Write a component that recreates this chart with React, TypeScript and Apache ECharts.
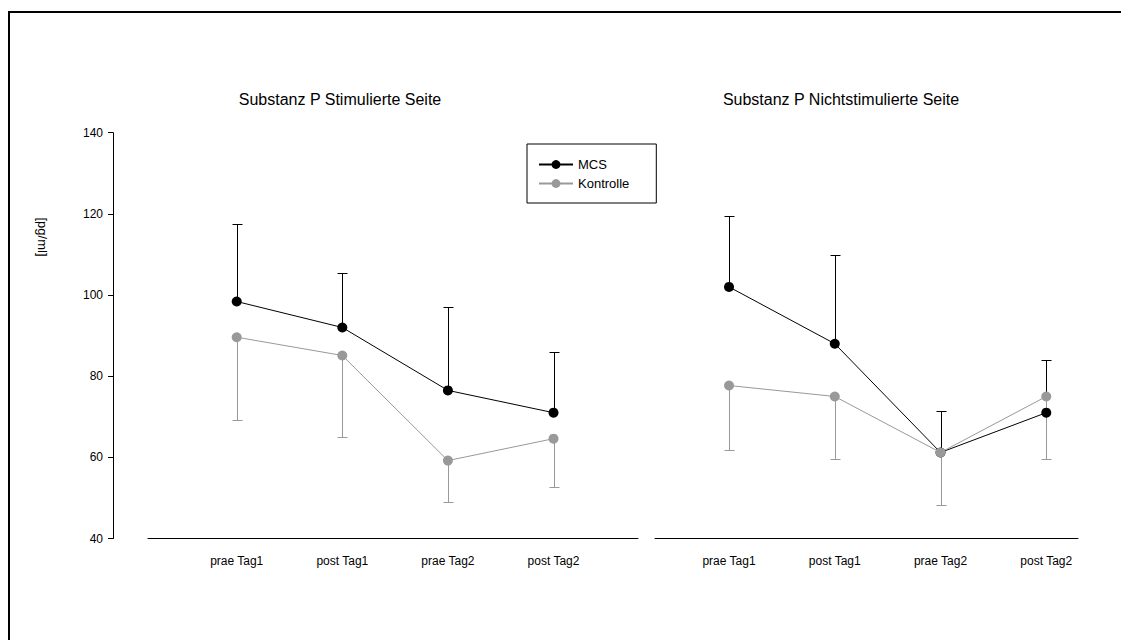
import React, { useEffect, useRef } from "react";
import * as echarts from "echarts";

const categories = ["prae Tag1", "post Tag1", "prae Tag2", "post Tag2"];
const xPositions = [1, 2, 3, 4];

// Substanz P Stimulierte Seite
const stimMCS = [98.4, 92.0, 76.5, 71.0];
const stimMCSSd = [19.1, 13.4, 20.5, 15.0];
const stimKontrolle = [89.6, 85.1, 59.2, 64.6];
const stimKontrolleSd = [20.3, 20.0, 10.2, 12.0];

// Substanz P Nichtstimulierte Seite
const nonMCS = [102.0, 88.0, 61.2, 71.0];
const nonMCSSd = [17.5, 21.8, 10.1, 13.0];
const nonKontrolle = [77.7, 75.0, 61.2, 75.0];
const nonKontrolleSd = [16.0, 15.3, 12.9, 15.3];

const yTicks = { min: 40, max: 140, interval: 20 };
const titles = ["Substanz P Stimulierte Seite", "Substanz P Nichtstimulierte Seite"];
const seriesNames = ["MCS", "Kontrolle"];
const yName = "[pg/ml]";

const FONT = "'Liberation Sans', Arial, sans-serif";
const BLACK = "#000000";
const GRAY = "#999999";

export default function App() {
  const ref = useRef<HTMLDivElement>(null);

  useEffect(() => {
    if (!ref.current) return;
    const chart = echarts.init(ref.current, undefined, { renderer: "svg" });

    const pts = (vals: number[]) => vals.map((v, i) => [xPositions[i], v]);
    const errs = (vals: number[], sd: number[], dir: number) =>
      vals.map((v, i) => [xPositions[i], v, v + dir * sd[i]]);

    const errRender = (params: any, api: any) => {
      const x = api.value(0);
      const p0 = api.coord([x, api.value(1)]);
      const p1 = api.coord([x, api.value(2)]);
      const color = api.visual("color");
      const cx = Math.round(p0[0]) + 0.5;
      const y1 = Math.round(p1[1]) + 0.5;
      return {
        type: "group",
        children: [
          { type: "line", shape: { x1: cx, y1: p0[1], x2: cx, y2: y1 }, style: { stroke: color, lineWidth: 1 } },
          { type: "line", shape: { x1: cx - 5, y1: y1, x2: cx + 5, y2: y1 }, style: { stroke: color, lineWidth: 1 } },
        ],
      };
    };

    const errSeries = (name: string, data: any[], color: string, idx: number) => ({
      type: "custom",
      name,
      xAxisIndex: idx,
      yAxisIndex: idx,
      renderItem: errRender,
      itemStyle: { color },
      data,
      z: 1,
    });

    const lineSeries = (name: string, data: any[], color: string, idx: number, z: number) => ({
      type: "line",
      name,
      xAxisIndex: idx,
      yAxisIndex: idx,
      data,
      symbol: "circle",
      symbolSize: 10,
      itemStyle: { color },
      lineStyle: { color, width: 1 },
      z,
    });

    const xAxisBase = {
      type: "value",
      axisLine: { show: true, onZero: false, lineStyle: { color: BLACK, width: 1 } },
      axisTick: { show: false },
      splitLine: { show: false },
      axisLabel: {
        customValues: xPositions,
        formatter: (v: number) => categories[Math.round(v) - 1] ?? "",
        color: BLACK,
        fontSize: 12,
        fontFamily: FONT,
        margin: 16,
      },
    };

    chart.setOption({
      animation: false,
      backgroundColor: "#ffffff",
      textStyle: { fontFamily: FONT },
      title: [
        { text: titles[0], left: 340, top: 91, textAlign: "center", padding: 0, textStyle: { fontSize: 16, fontWeight: "normal", color: BLACK, fontFamily: FONT } },
        { text: titles[1], left: 841, top: 91, textAlign: "center", padding: 0, textStyle: { fontSize: 16, fontWeight: "normal", color: BLACK, fontFamily: FONT } },
      ],
      legend: {
        data: seriesNames,
        orient: "vertical",
        left: 527,
        top: 144,
        padding: [14, 27, 13, 11],
        itemWidth: 34,
        itemHeight: 11,
        itemGap: 6,
        borderColor: BLACK,
        borderWidth: 1,
        borderRadius: 0,
        textStyle: { fontSize: 13, color: BLACK, fontFamily: FONT },
      },
      grid: [
        { left: 148, top: 132.7, width: 490, height: 405.8, containLabel: false },
        { left: 655, top: 132.7, width: 423, height: 405.8, containLabel: false },
      ],
      xAxis: [
        { ...xAxisBase, gridIndex: 0, min: 0.16, max: 4.8 },
        { ...xAxisBase, gridIndex: 1, min: 0.3, max: 4.3 },
      ],
      yAxis: [
        {
          type: "value",
          gridIndex: 0,
          min: yTicks.min,
          max: yTicks.max,
          interval: yTicks.interval,
          offset: 35,
          axisLine: { show: true, onZero: false, lineStyle: { color: BLACK, width: 1 } },
          axisTick: { show: true, inside: false, length: 5, lineStyle: { color: BLACK } },
          splitLine: { show: false },
          axisLabel: { color: BLACK, fontSize: 12, fontFamily: FONT, margin: 10 },
        },
        {
          type: "value",
          gridIndex: 1,
          min: yTicks.min,
          max: yTicks.max,
          interval: yTicks.interval,
          show: false,
          splitLine: { show: false },
        },
      ],
      graphic: [
        {
          type: "line",
          shape: { x1: 9, y1: 12, x2: 1121, y2: 12 },
          style: { stroke: BLACK, lineWidth: 2 },
          silent: true,
          z: -10,
        },
        {
          type: "line",
          shape: { x1: 9, y1: 11, x2: 9, y2: 640 },
          style: { stroke: BLACK, lineWidth: 2 },
          silent: true,
          z: -10,
        },
        {
          type: "text",
          x: 42,
          y: 237,
          rotation: -Math.PI / 2,
          style: { text: yName, fontSize: 13, fontFamily: FONT, fill: BLACK, align: "center", verticalAlign: "middle" },
        },
      ],
      series: [
        errSeries("errStimMCS", errs(stimMCS, stimMCSSd, 1), BLACK, 0),
        errSeries("errStimKon", errs(stimKontrolle, stimKontrolleSd, -1), GRAY, 0),
        errSeries("errNonMCS", errs(nonMCS, nonMCSSd, 1), BLACK, 1),
        errSeries("errNonKon", errs(nonKontrolle, nonKontrolleSd, -1), GRAY, 1),
        lineSeries(seriesNames[0], pts(stimMCS), BLACK, 0, 3),
        lineSeries(seriesNames[1], pts(stimKontrolle), GRAY, 0, 2),
        lineSeries(seriesNames[0], pts(nonMCS), BLACK, 1, 2),
        lineSeries(seriesNames[1], pts(nonKontrolle), GRAY, 1, 3),
      ],
    });

    return () => chart.dispose();
  }, []);

  return (
    <div
      ref={ref}
      style={{ position: "fixed", left: 0, top: 0, width: 1121, height: 640, background: "#fff" }}
    />
  );
}
